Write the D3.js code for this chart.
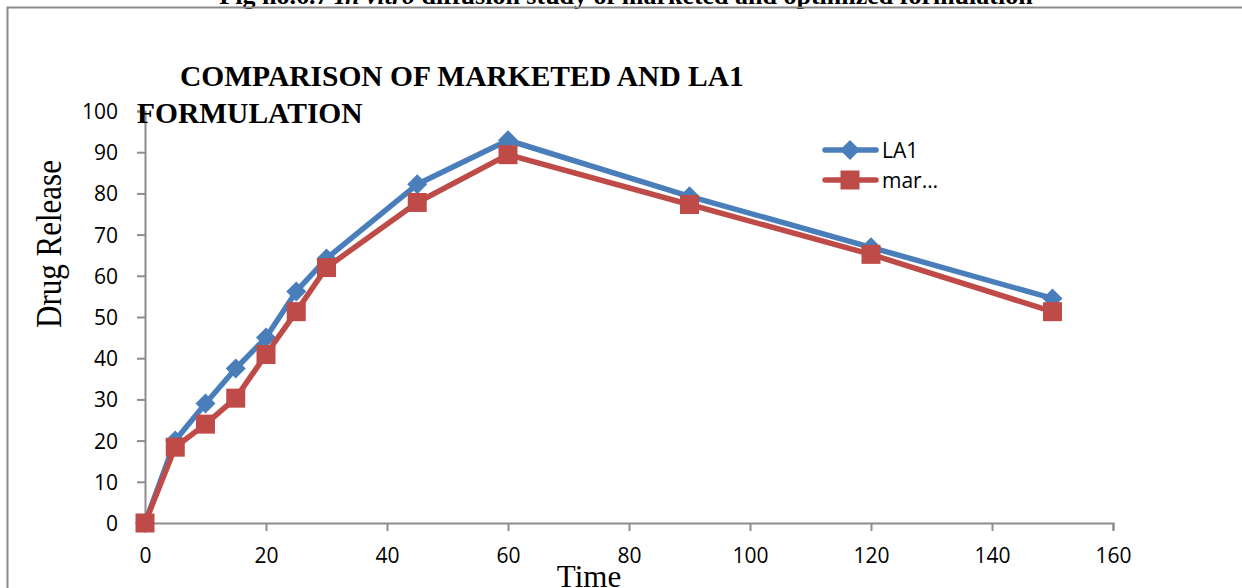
<!DOCTYPE html>
<html>
<head>
<meta charset="utf-8">
<script src="https://cdn.jsdelivr.net/npm/d3@7"></script>
<style>
  html, body { margin: 0; padding: 0; background: #fff; }
  svg { display: block; }
</style>
</head>
<body>
<svg id="chart" width="1242" height="588"></svg>
<script>
// Sampling times (min) and cumulative drug release for both formulations
const times = [0, 5, 10, 15, 20, 25, 30, 45, 60, 90, 120, 150];
const la1 = [0, 20, 29, 37.5, 45, 56.2, 64.2, 82.2, 92.9, 79.3, 66.9, 54.5];
const marketed = [0, 18.4, 24, 30.3, 40.9, 51.3, 62, 77.8, 89.4, 77.3, 65.2, 51.3];
const xTicks = [0, 20, 40, 60, 80, 100, 120, 140, 160];
const yTicks = [0, 10, 20, 30, 40, 50, 60, 70, 80, 90, 100];
const seriesNames = ["LA1", "mar\u2026"];

const svg = d3.select("#chart");

const x = d3.scaleLinear().domain([0, 160]).range([145, 1113]);
const y = d3.scaleLinear().domain([0, 100]).range([523, 111]);

const axisColor = "#8c8c8c";
const tickFont = "'Open Sans', 'Liberation Sans', sans-serif";
const serif = "'Liberation Serif', 'Times New Roman', serif";

// Figure caption, running off the top edge of the page
svg.append("text")
  .attr("x", 626).attr("y", 4)
  .attr("text-anchor", "middle")
  .attr("font-family", serif)
  .attr("font-weight", "bold")
  .attr("font-size", 26)
  .attr("fill", "#000")
  .html('Fig no.6.7 <tspan font-style="italic">In vitro</tspan> diffusion study of marketed and optimized formulation');

// Chart frame
svg.append("rect")
  .attr("x", 7.5).attr("y", 7.5)
  .attr("width", 1260).attr("height", 600)
  .attr("fill", "none")
  .attr("stroke", "#8a8a8a")
  .attr("stroke-width", 2);

// Y axis
const yAxis = svg.append("g")
  .attr("transform", `translate(${x(0)},0)`)
  .call(d3.axisLeft(y).tickValues(yTicks).tickSize(8).tickPadding(19).tickFormat(d3.format("d")));
yAxis.select(".domain").attr("stroke", axisColor).attr("stroke-width", 2);
yAxis.selectAll(".tick line").attr("stroke", axisColor).attr("stroke-width", 2);
yAxis.selectAll(".tick text")
  .attr("font-family", tickFont).attr("font-size", 21).attr("fill", "#000")
  .attr("dy", "0.36em");

// X axis
const xAxis = svg.append("g")
  .attr("transform", `translate(0,${y(0)})`)
  .call(d3.axisBottom(x).tickValues(xTicks).tickSize(8).tickPadding(17).tickFormat(d3.format("d")));
xAxis.select(".domain").attr("stroke", axisColor).attr("stroke-width", 2);
xAxis.selectAll(".tick line").attr("stroke", axisColor).attr("stroke-width", 2);
xAxis.selectAll(".tick text")
  .attr("font-family", tickFont).attr("font-size", 21).attr("fill", "#000");

// Axis titles
svg.append("text")
  .attr("transform", `translate(61,244) rotate(-90) scale(1,1.15)`)
  .attr("text-anchor", "middle")
  .attr("font-family", serif).attr("font-size", 31).attr("fill", "#000")
  .text("Drug Release");
svg.append("text")
  .attr("x", 589).attr("y", 587)
  .attr("text-anchor", "middle")
  .attr("font-family", serif).attr("font-size", 31).attr("fill", "#000")
  .text("Time");

// Chart title (two lines)
const title = svg.append("g")
  .attr("font-family", serif).attr("font-weight", "bold").attr("font-size", 29.5).attr("fill", "#000");
title.append("text").attr("x", 180).attr("y", 86).text("COMPARISON OF MARKETED AND LA1");
title.append("text").attr("x", 137).attr("y", 123).text("FORMULATION");

// Series
const blue = "#4A7EBB", red = "#BE4B48";
const line = d3.line().x(d => x(d[0])).y(d => y(d[1]));
const la1Pts = times.map((t, i) => [t, la1[i]]);
const marPts = times.map((t, i) => [t, marketed[i]]);

const diamond = "M0,-10L10,0L0,10L-10,0Z";
const square = d3.symbol().type(d3.symbolSquare).size(361)();

function drawSeries(pts, color, marker) {
  svg.append("path")
    .datum(pts)
    .attr("d", line)
    .attr("fill", "none")
    .attr("stroke", color)
    .attr("stroke-width", 5.5)
    .attr("stroke-linejoin", "round");
  svg.append("g").selectAll("path")
    .data(pts)
    .join("path")
    .attr("transform", d => `translate(${x(d[0])},${y(d[1])})`)
    .attr("d", marker)
    .attr("fill", color);
}

drawSeries(la1Pts, blue, diamond);
drawSeries(marPts, red, square);

// Legend
const legend = svg.append("g");
[[blue, diamond, 150], [red, square, 180]].forEach(([color, marker, ly], i) => {
  legend.append("line")
    .attr("x1", 825).attr("x2", 876).attr("y1", ly).attr("y2", ly)
    .attr("stroke", color).attr("stroke-width", 5.5).attr("stroke-linecap", "round");
  legend.append("path")
    .attr("transform", `translate(850,${ly})`)
    .attr("d", marker)
    .attr("fill", color);
  legend.append("text")
    .attr("x", 882).attr("y", ly).attr("dy", "0.36em")
    .attr("font-family", tickFont).attr("font-size", 21).attr("fill", "#000")
    .text(seriesNames[i]);
});
</script>
</body>
</html>
